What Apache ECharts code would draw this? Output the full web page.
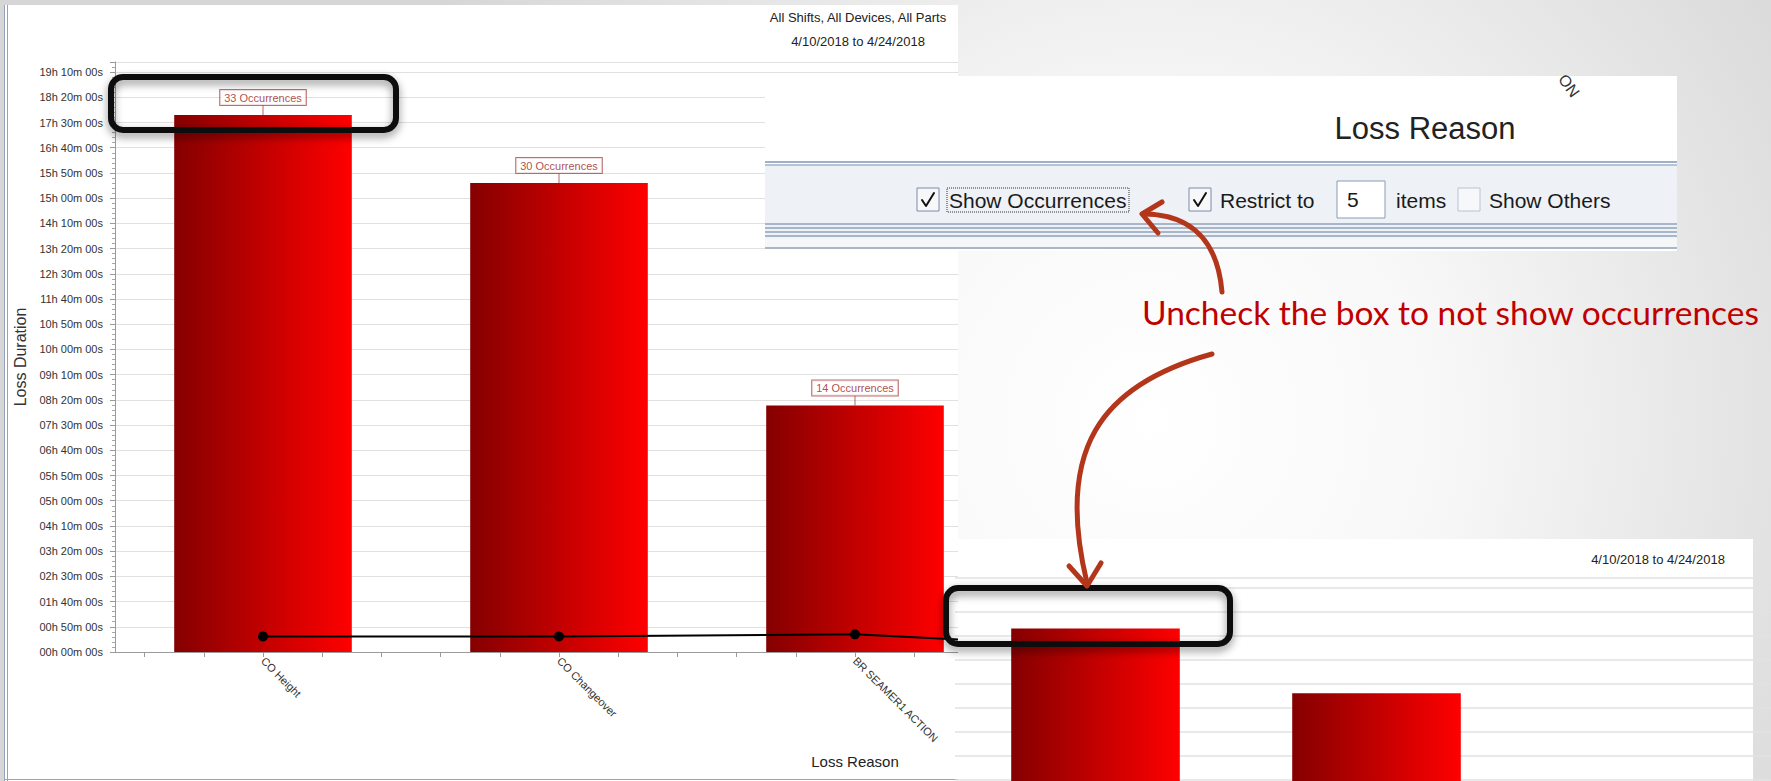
<!DOCTYPE html>
<html>
<head>
<meta charset="utf-8">
<title>Loss Reason</title>
<script src="https://cdn.jsdelivr.net/npm/echarts@6/dist/echarts.min.js"></script>
<style>
  html, body { margin: 0; padding: 0; background: #ffffff; }
  #chart { width: 1771px; height: 781px; }
</style>
</head>
<body>
<div id="chart"></div>
<script>
// Loss reasons (restricted to 5 items; the last two sit outside the cropped view)
const categories = ['CO Height', 'CO Changeover', 'BR SEAMER1 ACTION', '', ''];
// Total loss duration per reason, in seconds
const lossSeconds = [63900, 55800, 29340, '-', '-'];
// Number of occurrences per reason
const occurrences = [33, 30, 14, '-', '-'];
// Average duration per occurrence, in seconds (black line)
const avgSeconds = [1850, 1840, 2100, 360, '-'];
// Duration axis: 50 minute steps up to 19h 30m
const axisStep = 3000;
const axisMax = 70200;
const filterLine = 'All Shifts, All Devices, All Parts';
const dateRange = '4/10/2018 to 4/24/2018';
const annotation = 'Uncheck the box to not show occurrences';

const W = 1771, H = 781;
const FONT = '"Liberation Sans", Arial, sans-serif';

const pad2 = n => String(n).padStart(2, '0');
const hms = v => {
  const h = Math.floor(v / 3600), m = Math.floor((v % 3600) / 60), s = v % 60;
  return pad2(h) + 'h ' + pad2(m) + 'm ' + pad2(s) + 's';
};

// five minor tick slots per reason along the category axis
const subTicks = categories.flatMap(() => ['', '', '', '', '']);

const barFill = {
  type: 'linear', x: 0, y: 0, x2: 1, y2: 0,
  colorStops: [{ offset: 0, color: '#850000' }, { offset: 1, color: '#ff0000' }]
};
const slideFill = {
  type: 'radial', x: 1150, y: 420, r: 820, global: true,
  colorStops: [
    { offset: 0, color: '#ffffff' },
    { offset: 0.35, color: '#f8f8f8' },
    { offset: 0.75, color: '#e3e3e3' },
    { offset: 1, color: '#d6d6d6' }
  ]
};

const R = (x, y, w, h, fill, z, z2, extra) =>
  Object.assign({ type: 'rect', z, z2: z2 || 0, silent: true, shape: { x, y, width: w, height: h }, style: { fill } }, extra || {});
const T = (text, x, y, size, fill, z, align, extra) =>
  Object.assign({ type: 'text', z, z2: 5, silent: true, x, y,
    style: { text, fill, font: size + 'px ' + FONT, textAlign: align || 'left', textVerticalAlign: 'middle' } }, extra || {});
const PL = (pts, stroke, lw, z) => ({ type: 'polyline', z, z2: 4, silent: true, shape: { points: pts },
  style: { stroke, lineWidth: lw, fill: null, lineCap: 'round', lineJoin: 'round' } });
const BZ = (x1, y1, c1x, c1y, c2x, c2y, x2, y2, stroke, lw, z) => ({ type: 'bezierCurve', z, z2: 4, silent: true,
  shape: { x1, y1, cpx1: c1x, cpy1: c1y, cpx2: c2x, cpy2: c2y, x2, y2 },
  style: { stroke, lineWidth: lw, fill: null, lineCap: 'round' } });

const checkBox = (x, y, checked, z) => {
  const els = [R(x, y, 22, 23, '#f7f8fa', z, 2, { style: { fill: '#f7f8fa', stroke: checked ? '#7d8ca6' : '#b9c3d3', lineWidth: 1 } })];
  if (checked) els.push(PL([[x + 5, y + 12], [x + 9, y + 18], [x + 17, y + 5]], '#111', 2, z));
  return els;
};

const panelStripes = [];
[223, 227, 231, 235].forEach(y => panelStripes.push(R(765, y, 912, 2, '#a9b6c9', 10, 2)));

const callout = '#b4361a';
const boxStyle = { fill: null, stroke: '#111', lineWidth: 6, shadowBlur: 8, shadowOffsetY: 4, shadowColor: 'rgba(0,0,0,0.45)' };

const graphic = [
  // slide backdrop and the main report frame
  R(0, 0, W, H, slideFill, 0, 0),
  R(5, 5, 953, 776, '#ffffff', 0, 1),
  R(4, 5, 1, 776, '#97a3bd', 0, 2),
  R(7, 5, 1, 776, '#97a3bd', 0, 2),
  R(5, 779, 953, 1, '#97a3bd', 0, 2),
  T(filterLine, 858, 17, 13, '#222', 4, 'center'),
  T(dateRange, 858, 41, 13, '#222', 4, 'center'),
  // slide area beyond the cropped report
  R(958, 0, W - 958, H, slideFill, 5, 0),
  // second report view (occurrences hidden)
  R(958, 539, 795, 242, '#ffffff', 6, 0),
  T(dateRange, 1658, 559, 13, '#222', 8, 'center'),
  // option panel
  R(765, 76, 912, 175, '#ffffff', 10, 0),
  T('ON', 1562, 76, 16, '#333', 10, 'left', { rotation: -0.95 }),
  T('Loss Reason', 1425, 128, 31, '#222', 10, 'center'),
  R(765, 161, 912, 2, '#9fb0c8', 10, 1),
  R(765, 164, 912, 2, '#b7c3d4', 10, 1),
  R(765, 166, 912, 56, '#eef1f5', 10, 1),
  R(765, 222, 912, 16, '#eef1f5', 10, 1),
  ...panelStripes,
  R(765, 238, 912, 9, '#f5f6f8', 10, 1),
  R(765, 247, 912, 2, '#a9b6c9', 10, 2),
  ...checkBox(917, 188, true, 10),
  T('Show Occurrences', 949, 200, 21, '#1a1a1a', 10),
  R(947, 188, 182, 24, null, 10, 3, { style: { fill: null, stroke: '#333', lineWidth: 1, lineDash: [1, 1] } }),
  ...checkBox(1189, 188, true, 10),
  T('Restrict to', 1220, 200, 21, '#1a1a1a', 10),
  R(1337, 181, 48, 37, '#ffffff', 10, 2, { style: { fill: '#ffffff', stroke: '#8b9bb4', lineWidth: 1 } }),
  T('5', 1347, 199, 21, '#1a1a1a', 10),
  T('items', 1396, 200, 21, '#1a1a1a', 10),
  ...checkBox(1458, 188, false, 10),
  T('Show Others', 1489, 200, 21, '#1a1a1a', 10),
  // callouts
  T(annotation, 1142, 312, 33.5, '#c00000', 20, 'left', { style: { text: annotation, fill: '#c00000', font: '33.5px Lato, "Noto Sans", sans-serif', textAlign: 'left', textVerticalAlign: 'middle' } }),
  BZ(1222, 292, 1218, 245, 1195, 214, 1143, 214, callout, 5, 20),
  PL([[1162, 202], [1142, 214], [1158, 233]], callout, 5, 20),
  BZ(1212, 354, 1100, 385, 1055, 450, 1087, 583, callout, 5, 20),
  PL([[1069, 566], [1087, 586], [1101, 563]], callout, 5, 20),
  R(111, 77, 285, 53, null, 20, 1, { shape: { x: 111, y: 77, width: 285, height: 53, r: 12 }, style: boxStyle }),
  R(946, 588, 284, 56, null, 20, 1, { shape: { x: 946, y: 588, width: 284, height: 56, r: 12 }, style: boxStyle })
];

const chart = echarts.init(document.getElementById('chart'), null, { renderer: 'svg' });
chart.setOption({
  animation: false,
  textStyle: { fontFamily: FONT },
  grid: [
    { left: 115, top: 62, width: 296 * categories.length, height: 590, outerBoundsMode: 'none' },
    { left: 955, top: 578, width: 281 * categories.length, height: 562, outerBoundsMode: 'none' }
  ],
  xAxis: [
    {
      type: 'category', gridIndex: 0, data: categories, position: 'bottom', z: 1,
      axisLine: { lineStyle: { color: '#9a9a9a', width: 1 } },
      axisTick: { show: false },
      axisLabel: { rotate: -45, interval: 0, margin: 7, fontSize: 11, color: '#333', fontFamily: FONT },
      name: 'Loss Reason', nameLocation: 'middle', nameGap: 102,
      nameTextStyle: { fontSize: 15, color: '#222', fontFamily: FONT }
    },
    {
      type: 'category', gridIndex: 0, data: subTicks, position: 'top', offset: -590, z: 1,
      axisLine: { show: false },
      axisTick: { show: true, inside: true, alignWithLabel: true, interval: 0, length: 5, lineStyle: { color: '#9a9a9a' } },
      axisLabel: { show: false, interval: 0 },
      splitLine: { show: false }
    },
    {
      type: 'category', gridIndex: 1, data: categories, z: 7,
      axisLine: { show: false }, axisTick: { show: false }, axisLabel: { show: false }
    }
  ],
  yAxis: [
    {
      type: 'value', gridIndex: 0, min: 0, max: axisMax, interval: axisStep, z: 1,
      axisLine: { show: true, lineStyle: { color: '#9a9a9a' } },
      axisTick: { show: true, length: 5, lineStyle: { color: '#9a9a9a' } },
      minorTick: { show: true, splitNumber: 5, length: 3, lineStyle: { color: '#a8a8a8' } },
      axisLabel: { margin: 12, fontSize: 11, color: '#333', fontFamily: FONT,
        formatter: v => (v % axisStep ? '' : hms(v)) },
      splitLine: { show: true, lineStyle: { color: '#e0e0e0', width: 1 } },
      name: 'Loss Duration', nameLocation: 'middle', nameGap: 76, nameRotate: 90,
      nameTextStyle: { fontSize: 16, color: '#333', fontFamily: FONT }
    },
    {
      type: 'value', gridIndex: 1, min: 0, max: axisMax, interval: axisStep, z: 7,
      axisLine: { show: false }, axisTick: { show: false }, axisLabel: { show: false },
      splitLine: { show: true, lineStyle: { color: '#e2e2e2', width: 1.5 } }
    }
  ],
  series: [
    {
      name: 'Loss Duration', type: 'bar', xAxisIndex: 0, yAxisIndex: 0, z: 2,
      data: lossSeconds, barWidth: '60%', itemStyle: { color: barFill }
    },
    {
      name: 'Occurrences', type: 'scatter', xAxisIndex: 0, yAxisIndex: 0, z: 3, silent: true,
      data: lossSeconds, symbol: 'rect', symbolSize: [1, 10], symbolOffset: [0, -5],
      itemStyle: { color: '#a84040' },
      label: {
        show: true, position: 'top', distance: 0,
        formatter: p => occurrences[p.dataIndex] + ' Occurrences',
        fontSize: 11, lineHeight: 12, color: '#9b2020', fontFamily: FONT,
        backgroundColor: '#ffffff', borderColor: '#b04848', borderWidth: 1, padding: [2, 4, 1, 4]
      }
    },
    {
      name: 'Average Duration', type: 'line', xAxisIndex: 0, yAxisIndex: 0, z: 4,
      data: avgSeconds, symbol: 'circle', symbolSize: 10,
      itemStyle: { color: '#000' }, lineStyle: { color: '#000', width: 2 }
    },
    {
      name: 'Loss Duration (no occurrences)', type: 'bar', xAxisIndex: 2, yAxisIndex: 1, z: 8,
      data: lossSeconds, barWidth: '60%', itemStyle: { color: barFill }
    }
  ],
  graphic: graphic
});
</script>
</body>
</html>
